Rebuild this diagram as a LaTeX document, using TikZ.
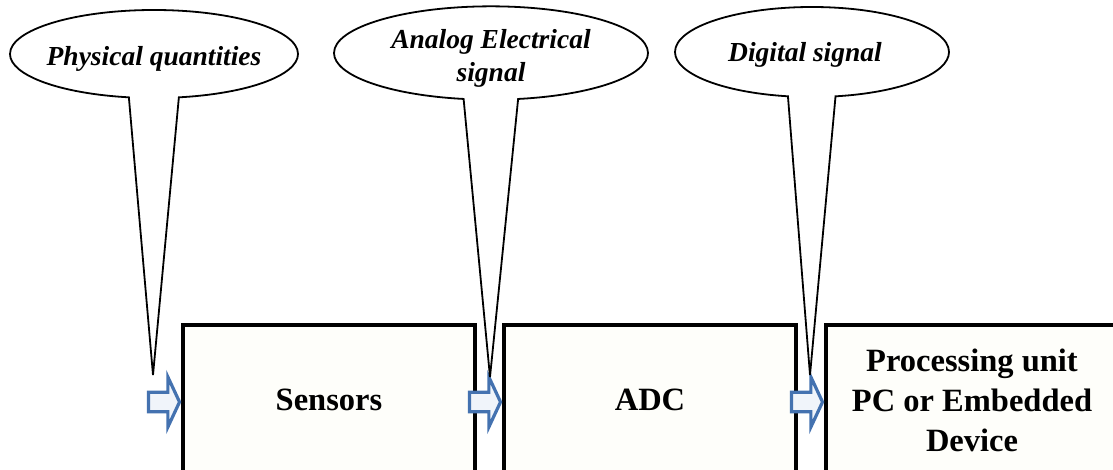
\documentclass[tikz,border=0pt]{standalone}
\usepackage{fontspec}
\setmainfont{Liberation Serif}
\usetikzlibrary{shapes.callouts,shapes.arrows}
\definecolor{boxfill}{RGB}{254,254,250}
\definecolor{arrowblue}{RGB}{68,114,176}
\definecolor{arrowfill}{RGB}{240,244,250}
\newcommand{\lowertext}[2]{\raisebox{-#1}[\height][\depth]{#2}}
\tikzset{
  bubble/.style={ellipse callout, draw=black, line width=1.8pt, fill=white, inner sep=0pt,
    callout pointer arc=20, font=\fontsize{27.5}{33}\selectfont\bfseries\itshape},
  blockbox/.style={draw=black, line width=3.4pt, fill=boxfill, minimum width=292pt, minimum height=150pt,
    inner sep=0pt, align=center, font=\fontsize{32.5}{40}\selectfont\bfseries},
  blockarrow/.style={single arrow, draw=arrowblue, line width=3.2pt, fill=arrowfill,
    inner xsep=0pt, inner ysep=5.5pt,
    minimum height=31pt, minimum width=50pt, single arrow head extend=11pt,
    single arrow tip angle=130, anchor=tip}
}
\begin{document}
\begin{tikzpicture}[x=1pt,y=-1pt]
\useasboundingbox (0,0) rectangle (1113,470);
% boxes
\node[blockbox] (sensors) at (329,400) {Sensors};
\node[blockbox] (adc) at (650,400) {ADC};
\node[blockbox] (proc) at (972,400) {Processing unit\\PC or Embedded\\Device};
% block arrows
\node[blockarrow] (a1) at ([yshift=-2pt]sensors.west) {};
\node[blockarrow] (a2) at ([yshift=-2pt]adc.west) {};
\node[blockarrow] (a3) at ([yshift=-2pt]proc.west) {};
% callouts
\node[bubble, minimum width=288pt, minimum height=88pt,
  callout absolute pointer={(153,375)}] (c1) at (154,54) {\makebox[0pt]{\lowertext{5pt}{Physical quantities}}};
\node[bubble, minimum width=314pt, minimum height=90pt,
  callout absolute pointer={(490,377)}] (c2) at (491,53)
  {\makebox[0pt]{\lowertext{5pt}{\begin{tabular}{@{}c@{}}Analog Electrical\\signal\end{tabular}}}};
\node[bubble, minimum width=274pt, minimum height=90pt,
  callout absolute pointer={(810,375)}] (c3) at (812,52) {\makebox[0pt]{\hspace*{-14pt}\lowertext{3pt}{Digital signal}}};
\end{tikzpicture}
\end{document}
